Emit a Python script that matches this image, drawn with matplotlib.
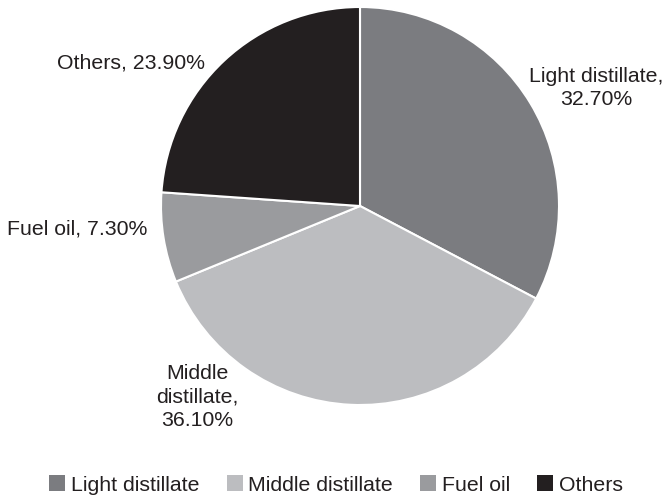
import matplotlib.pyplot as plt
from matplotlib.patches import Patch

plt.rcParams['font.family'] = ['Liberation Sans', 'DejaVu Sans']

# product shares (%)
names = ['Light distillate', 'Middle distillate', 'Fuel oil', 'Others']
shares = [32.7, 36.1, 7.3, 23.9]
colors = ['#7b7c80', '#bcbdc0', '#9a9b9e', '#231f20']
label_text = ['Light distillate,\n32.70%', 'Middle\ndistillate,\n36.10%',
              'Fuel oil, 7.30%', 'Others, 23.90%']

W, H = 665, 498
fig = plt.figure(figsize=(W / 100, H / 100), dpi=100)

# pie centre and radius in pixels
cx, cy, r = 360, 206, 199
ax = fig.add_axes([(cx - r) / W, (H - cy - r) / H, 2 * r / W, 2 * r / H])
ax.pie(shares, colors=colors, startangle=90, counterclock=False,
       wedgeprops=dict(edgecolor='white', linewidth=1.5))
ax.set_xlim(-1, 1)
ax.set_ylim(-1, 1)
ax.set_aspect('equal')
ax.axis('off')

# slice labels, placed in pixel coordinates
label_pos = [(596, 88), (197, 397), (77, 229), (131, 63)]
for txt, (px, py) in zip(label_text, label_pos):
    fig.text(px / W, 1 - py / H, txt, ha='center', va='center',
             fontsize=15.3, color='#231f20', linespacing=1.27)

handles = [Patch(facecolor=c, edgecolor='none') for c in colors]
fig.legend(handles, names, loc='center', bbox_to_anchor=(336 / W, 1 - 485 / H),
           ncol=4, frameon=False, fontsize=15.3, handlelength=0.75,
           handleheight=0.75, handletextpad=0.25, columnspacing=1.3,
           labelcolor='#231f20', borderpad=0)

fig.savefig('out.png', dpi=100, facecolor='white')
